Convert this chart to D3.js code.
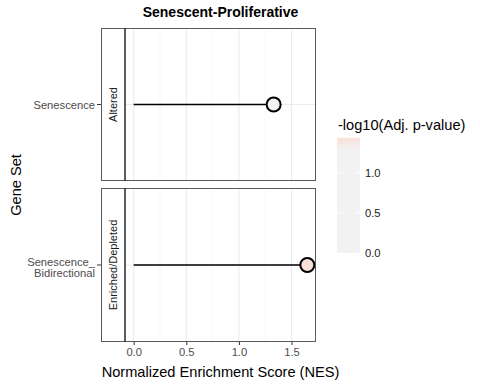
<!DOCTYPE html>
<html>
<head>
<meta charset="utf-8">
<script src="https://cdn.jsdelivr.net/npm/d3@7"></script>
<style>
  body { margin: 0; background: #fff; }
  text { font-family: "Liberation Sans", Arial, sans-serif; }
</style>
</head>
<body>
<svg class="chart"></svg>
<script>
// chart values
var geneSets = ["Senescence", "Senescence_\nBidirectional"];
var facets = ["Altered", "Enriched/Depleted"];
var nes = [1.33, 1.65];
var logP = [0.0, 1.44];
var xTicks = [0, 0.5, 1, 1.5];
var legendTicks = [0, 0.5, 1];

function show() {
    'use strict';
    var width = 480, height = 384;
    var svg = d3.select(".chart").attr("width", width).attr("height", height);

    var outerLeft = 101, stripW = 24, right = 316;
    var panelLeft = outerLeft + stripW;
    var panels = [{top: 28, bottom: 181}, {top: 188, bottom: 342}];

    var x = d3.scaleLinear().domain([-0.0825, 1.7325]).range([panelLeft, right]);
    var fill = d3.scaleLinear()
        .domain([0, 1.301, 1.301 + 1.301])
        .range(["#f2f2f2", "#f2f2f2", "#ff0000"])
        .interpolate(d3.interpolateLab)
        .clamp(true);

    // title
    svg.append("text")
        .attr("x", (panelLeft + right) / 2).attr("y", 17)
        .attr("text-anchor", "middle")
        .style("font-size", "14px").style("font-weight", "bold")
        .text("Senescent-Proliferative");

    panels.forEach(function(p, i) {
        var g = svg.append("g");
        var cy = (p.top + p.bottom) / 2;

        // minor grid
        [0.25, 0.75, 1.25].forEach(function(v) {
            g.append("line").attr("x1", x(v)).attr("x2", x(v))
                .attr("y1", p.top).attr("y2", p.bottom)
                .attr("stroke", "#f2f2f2").attr("stroke-width", 0.6);
        });
        xTicks.forEach(function(v) {
            g.append("line").attr("x1", x(v)).attr("x2", x(v))
                .attr("y1", p.top).attr("y2", p.bottom)
                .attr("stroke", "#ebebeb").attr("stroke-width", 1.1);
        });
        g.append("line").attr("x1", panelLeft).attr("x2", right)
            .attr("y1", cy).attr("y2", cy)
            .attr("stroke", "#ebebeb").attr("stroke-width", 1.1);

        // lollipop
        g.append("line").attr("x1", x(0)).attr("x2", x(nes[i]))
            .attr("y1", cy).attr("y2", cy)
            .attr("stroke", "#000").attr("stroke-width", 1.5);
        g.append("circle").attr("cx", x(nes[i])).attr("cy", cy).attr("r", 7)
            .attr("fill", fill(logP[i]))
            .attr("stroke", "#000").attr("stroke-width", 2);

        // borders and strip
        g.append("rect").attr("x", outerLeft + 0.5).attr("y", p.top + 0.5)
            .attr("width", right - outerLeft - 1).attr("height", p.bottom - p.top - 1)
            .attr("fill", "none").attr("stroke", "#5a5a5a").attr("stroke-width", 1);
        g.append("line").attr("x1", panelLeft).attr("x2", panelLeft)
            .attr("y1", p.top).attr("y2", p.bottom)
            .attr("stroke", "#333").attr("stroke-width", 1.6);
        g.append("text")
            .attr("transform", "translate(" + (outerLeft + stripW / 2 + 4) + "," + cy + ") rotate(-90)")
            .attr("text-anchor", "middle")
            .style("font-size", "11px").style("fill", "#1a1a1a")
            .text(facets[i]);

        // y tick + label
        g.append("line").attr("x1", outerLeft - 4).attr("x2", outerLeft)
            .attr("y1", cy).attr("y2", cy).attr("stroke", "#333");
        var lines = geneSets[i].split("\n");
        var t = g.append("text").attr("text-anchor", "end")
            .style("font-size", "11.2px").style("fill", "#4d4d4d");
        lines.forEach(function(s, k) {
            t.append("tspan").attr("x", outerLeft - 6)
                .attr("y", cy + 4 + (lines.length > 1 ? 2.5 : 0) + (k - (lines.length - 1) / 2) * 11)
                .text(s);
        });
    });

    // x axis
    var xa = svg.append("g").attr("transform", "translate(0," + panels[1].bottom + ")")
        .call(d3.axisBottom(x).tickValues(xTicks).tickFormat(d3.format(".1f")).tickSize(3).tickPadding(3));
    xa.select(".domain").remove();
    xa.selectAll("line").attr("stroke", "#333");
    xa.selectAll("text").style("font-size", "11.2px").style("fill", "#4d4d4d")
        .style("font-family", "Liberation Sans, Arial, sans-serif");

    svg.append("text").attr("x", (panelLeft + right) / 2).attr("y", 377)
        .attr("text-anchor", "middle").style("font-size", "14.6px")
        .text("Normalized Enrichment Score (NES)");
    svg.append("text")
        .attr("transform", "translate(21," + ((panels[0].top + panels[1].bottom) / 2) + ") rotate(-90)")
        .attr("text-anchor", "middle").style("font-size", "14.6px")
        .text("Gene Set");

    // legend
    var lx = 337, lw = 23;
    var ly = d3.scaleLinear().domain([0, 1]).range([253, 173]);
    var lmax = d3.max(logP);
    var defs = svg.append("defs");
    var grad = defs.append("linearGradient").attr("id", "lg")
        .attr("x1", 0).attr("x2", 0).attr("y1", 1).attr("y2", 0);
    d3.range(0, 21).forEach(function(k) {
        var v = lmax * k / 20;
        grad.append("stop").attr("offset", k / 20).attr("stop-color", fill(v));
    });
    svg.append("rect").attr("x", lx).attr("y", ly(lmax))
        .attr("width", lw).attr("height", ly(0) - ly(lmax))
        .attr("fill", "url(#lg)");
    legendTicks.forEach(function(v) {
        svg.append("line").attr("x1", lx).attr("x2", lx + 4)
            .attr("y1", ly(v)).attr("y2", ly(v)).attr("stroke", "#fff");
        svg.append("line").attr("x1", lx + lw - 4).attr("x2", lx + lw)
            .attr("y1", ly(v)).attr("y2", ly(v)).attr("stroke", "#fff");
        svg.append("text").attr("x", lx + lw + 5).attr("y", ly(v) + 4)
            .style("font-size", "11.2px").style("fill", "#1a1a1a")
            .text(d3.format(".1f")(v));
    });
    svg.append("text").attr("x", lx + 1).attr("y", 130)
        .style("font-size", "14.6px").text("-log10(Adj. p-value)");
}
show();
</script>
</body>
</html>
